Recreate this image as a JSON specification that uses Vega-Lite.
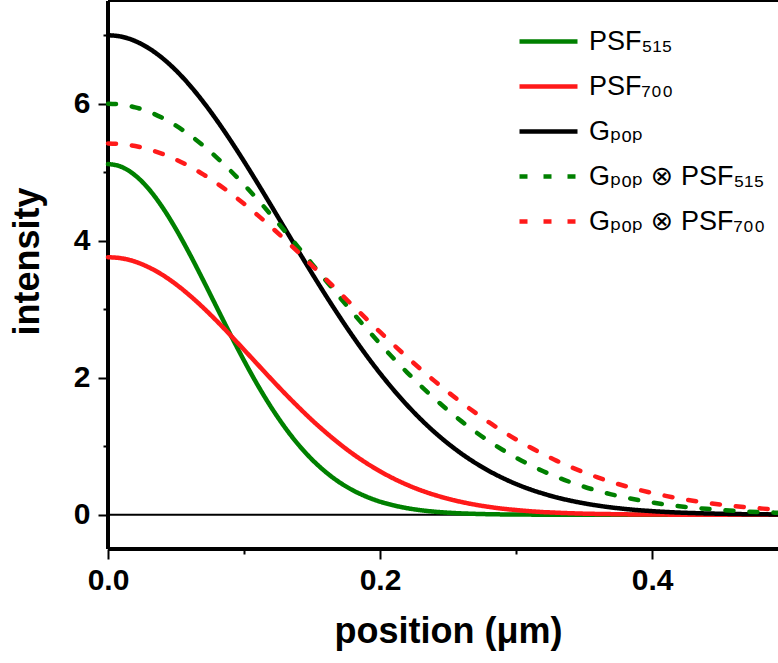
{
  "$schema": "https://vega.github.io/schema/vega-lite/v6.json",
  "width": 670,
  "height": 548,
  "autosize": {"type": "none"},
  "padding": {"left": 108, "top": 1, "right": 0, "bottom": 114},
  "background": "white",
  "config": {
    "view": {"stroke": null},
    "axis": {
      "domain": false,
      "ticks": true,
      "tickColor": "black",
      "tickWidth": 2,
      "grid": false,
      "labelFont": "Liberation Sans",
      "labelFontWeight": "bold",
      "labelFontSize": 30,
      "labelColor": "black",
      "titleFont": "Liberation Sans",
      "titleFontWeight": "bold",
      "titleFontSize": 36,
      "titleColor": "black"
    }
  },
  "data": {
    "values": [
      {"x": 0.00, "gpop": 7.000, "psf515": 5.120, "psf700": 3.760, "gpop_psf515": 6.000, "gpop_psf700": 5.420},
      {"x": 0.01, "gpop": 6.979, "psf515": 5.078, "psf700": 3.743, "gpop_psf515": 5.987, "gpop_psf700": 5.410},
      {"x": 0.02, "gpop": 6.915, "psf515": 4.954, "psf700": 3.694, "gpop_psf515": 5.948, "gpop_psf700": 5.382},
      {"x": 0.03, "gpop": 6.810, "psf515": 4.755, "psf700": 3.612, "gpop_psf515": 5.883, "gpop_psf700": 5.334},
      {"x": 0.04, "gpop": 6.666, "psf515": 4.489, "psf700": 3.502, "gpop_psf515": 5.793, "gpop_psf700": 5.269},
      {"x": 0.05, "gpop": 6.486, "psf515": 4.169, "psf700": 3.364, "gpop_psf515": 5.680, "gpop_psf700": 5.185},
      {"x": 0.06, "gpop": 6.272, "psf515": 3.809, "psf700": 3.203, "gpop_psf515": 5.545, "gpop_psf700": 5.085},
      {"x": 0.07, "gpop": 6.028, "psf515": 3.423, "psf700": 3.023, "gpop_psf515": 5.389, "gpop_psf700": 4.969},
      {"x": 0.08, "gpop": 5.758, "psf515": 3.026, "psf700": 2.828, "gpop_psf515": 5.214, "gpop_psf700": 4.839},
      {"x": 0.09, "gpop": 5.467, "psf515": 2.631, "psf700": 2.622, "gpop_psf515": 5.024, "gpop_psf700": 4.696},
      {"x": 0.10, "gpop": 5.159, "psf515": 2.251, "psf700": 2.409, "gpop_psf515": 4.819, "gpop_psf700": 4.540},
      {"x": 0.11, "gpop": 4.839, "psf515": 1.894, "psf700": 2.195, "gpop_psf515": 4.602, "gpop_psf700": 4.374},
      {"x": 0.12, "gpop": 4.511, "psf515": 1.568, "psf700": 1.981, "gpop_psf515": 4.375, "gpop_psf700": 4.200},
      {"x": 0.13, "gpop": 4.179, "psf515": 1.277, "psf700": 1.772, "gpop_psf515": 4.142, "gpop_psf700": 4.018},
      {"x": 0.14, "gpop": 3.849, "psf515": 1.023, "psf700": 1.572, "gpop_psf515": 3.904, "gpop_psf700": 3.830},
      {"x": 0.15, "gpop": 3.523, "psf515": 0.806, "psf700": 1.381, "gpop_psf515": 3.663, "gpop_psf700": 3.638},
      {"x": 0.16, "gpop": 3.205, "psf515": 0.625, "psf700": 1.204, "gpop_psf515": 3.423, "gpop_psf700": 3.444},
      {"x": 0.17, "gpop": 2.898, "psf515": 0.476, "psf700": 1.039, "gpop_psf515": 3.184, "gpop_psf700": 3.248},
      {"x": 0.18, "gpop": 2.604, "psf515": 0.357, "psf700": 0.889, "gpop_psf515": 2.948, "gpop_psf700": 3.053},
      {"x": 0.19, "gpop": 2.326, "psf515": 0.264, "psf700": 0.754, "gpop_psf515": 2.719, "gpop_psf700": 2.859},
      {"x": 0.20, "gpop": 2.065, "psf515": 0.191, "psf700": 0.634, "gpop_psf515": 2.496, "gpop_psf700": 2.668},
      {"x": 0.21, "gpop": 1.822, "psf515": 0.137, "psf700": 0.528, "gpop_psf515": 2.281, "gpop_psf700": 2.482},
      {"x": 0.22, "gpop": 1.598, "psf515": 0.096, "psf700": 0.436, "gpop_psf515": 2.076, "gpop_psf700": 2.299},
      {"x": 0.23, "gpop": 1.393, "psf515": 0.066, "psf700": 0.357, "gpop_psf515": 1.881, "gpop_psf700": 2.123},
      {"x": 0.24, "gpop": 1.207, "psf515": 0.045, "psf700": 0.290, "gpop_psf515": 1.697, "gpop_psf700": 1.954},
      {"x": 0.25, "gpop": 1.040, "psf515": 0.030, "psf700": 0.233, "gpop_psf515": 1.524, "gpop_psf700": 1.791},
      {"x": 0.26, "gpop": 0.890, "psf515": 0.020, "psf700": 0.186, "gpop_psf515": 1.363, "gpop_psf700": 1.637},
      {"x": 0.27, "gpop": 0.757, "psf515": 0.013, "psf700": 0.147, "gpop_psf515": 1.213, "gpop_psf700": 1.490},
      {"x": 0.28, "gpop": 0.640, "psf515": 0.008, "psf700": 0.115, "gpop_psf515": 1.075, "gpop_psf700": 1.351},
      {"x": 0.29, "gpop": 0.538, "psf515": 0.005, "psf700": 0.089, "gpop_psf515": 0.949, "gpop_psf700": 1.222},
      {"x": 0.30, "gpop": 0.449, "psf515": 0.003, "psf700": 0.069, "gpop_psf515": 0.834, "gpop_psf700": 1.100},
      {"x": 0.31, "gpop": 0.373, "psf515": 0.002, "psf700": 0.052, "gpop_psf515": 0.729, "gpop_psf700": 0.988},
      {"x": 0.32, "gpop": 0.308, "psf515": 0.001, "psf700": 0.039, "gpop_psf515": 0.635, "gpop_psf700": 0.884},
      {"x": 0.33, "gpop": 0.252, "psf515": 0.001, "psf700": 0.030, "gpop_psf515": 0.551, "gpop_psf700": 0.787},
      {"x": 0.34, "gpop": 0.206, "psf515": 0.000, "psf700": 0.022, "gpop_psf515": 0.476, "gpop_psf700": 0.699},
      {"x": 0.35, "gpop": 0.167, "psf515": 0.000, "psf700": 0.016, "gpop_psf515": 0.409, "gpop_psf700": 0.619},
      {"x": 0.36, "gpop": 0.134, "psf515": 0.000, "psf700": 0.012, "gpop_psf515": 0.350, "gpop_psf700": 0.546},
      {"x": 0.37, "gpop": 0.107, "psf515": 0.000, "psf700": 0.009, "gpop_psf515": 0.298, "gpop_psf700": 0.479},
      {"x": 0.38, "gpop": 0.085, "psf515": 0.000, "psf700": 0.006, "gpop_psf515": 0.253, "gpop_psf700": 0.420},
      {"x": 0.39, "gpop": 0.067, "psf515": 0.000, "psf700": 0.004, "gpop_psf515": 0.214, "gpop_psf700": 0.366},
      {"x": 0.40, "gpop": 0.053, "psf515": 0.000, "psf700": 0.003, "gpop_psf515": 0.180, "gpop_psf700": 0.318},
      {"x": 0.41, "gpop": 0.041, "psf515": 0.000, "psf700": 0.002, "gpop_psf515": 0.150, "gpop_psf700": 0.276},
      {"x": 0.42, "gpop": 0.032, "psf515": 0.000, "psf700": 0.001, "gpop_psf515": 0.125, "gpop_psf700": 0.238},
      {"x": 0.43, "gpop": 0.025, "psf515": 0.000, "psf700": 0.001, "gpop_psf515": 0.104, "gpop_psf700": 0.205},
      {"x": 0.44, "gpop": 0.019, "psf515": 0.000, "psf700": 0.001, "gpop_psf515": 0.086, "gpop_psf700": 0.176},
      {"x": 0.45, "gpop": 0.015, "psf515": 0.000, "psf700": 0.000, "gpop_psf515": 0.071, "gpop_psf700": 0.150},
      {"x": 0.46, "gpop": 0.011, "psf515": 0.000, "psf700": 0.000, "gpop_psf515": 0.058, "gpop_psf700": 0.128},
      {"x": 0.47, "gpop": 0.008, "psf515": 0.000, "psf700": 0.000, "gpop_psf515": 0.047, "gpop_psf700": 0.108},
      {"x": 0.48, "gpop": 0.006, "psf515": 0.000, "psf700": 0.000, "gpop_psf515": 0.038, "gpop_psf700": 0.092},
      {"x": 0.49, "gpop": 0.005, "psf515": 0.000, "psf700": 0.000, "gpop_psf515": 0.031, "gpop_psf700": 0.077},
      {"x": 0.50, "gpop": 0.003, "psf515": 0.000, "psf700": 0.000, "gpop_psf515": 0.025, "gpop_psf700": 0.065}
    ]
  },
  "layer": [
    {
      "mark": {"type": "rule", "color": "black", "strokeWidth": 2.5},
      "encoding": {"y": {"datum": -0.5, "type": "quantitative"}}
    },
    {
      "mark": {"type": "rule", "color": "black", "strokeWidth": 2.5},
      "encoding": {"x": {"datum": 0, "type": "quantitative"}}
    },
    {
      "data": {"values": [{"level": 0}, {"level": 7.5}]},
      "mark": {"type": "rule", "color": "black", "strokeWidth": 2},
      "encoding": {
        "y": {"field": "level", "type": "quantitative", "title": "intensity"}
      }
    },
    {
      "transform": [
        {"fold": ["psf515", "psf700", "gpop", "gpop_psf515", "gpop_psf700"], "as": ["series", "intensity"]}
      ],
      "mark": {"type": "line", "strokeWidth": 4.5, "strokeCap": "round", "interpolate": "monotone"},
      "encoding": {
        "x": {
          "field": "x",
          "type": "quantitative",
          "scale": {"domain": [0, 0.4926], "nice": false, "zero": false},
          "axis": {
            "values": [0, 0.1, 0.2, 0.3, 0.4],
            "format": ".1f",
            "labelExpr": "round(datum.value * 10) % 2 === 1 ? '' : datum.label",
            "tickSize": {"condition": {"test": "round(datum.value * 10) % 2 === 1", "value": 5}, "value": 10},
            "labelPadding": 6,
            "labelFlush": false,
            "title": "position (μm)",
            "titleX": 340,
            "titleY": 82,
            "titleAlign": "center",
            "titleBaseline": "middle"
          }
        },
        "y": {
          "field": "intensity",
          "type": "quantitative",
          "scale": {"domain": [-0.5, 7.5], "nice": false, "zero": false},
          "axis": {
            "values": [0, 1, 2, 3, 4, 5, 6, 7],
            "format": "d",
            "labelExpr": "datum.value % 2 === 1 ? '' : datum.label",
            "tickSize": {"condition": {"test": "datum.value % 2 === 1", "value": 5}, "value": 10},
            "labelPadding": 8,
            "title": "intensity",
            "titleAngle": -90,
            "titleX": -81,
            "titleY": 260,
            "titleAlign": "center",
            "titleBaseline": "middle"
          }
        },
        "color": {
          "field": "series",
          "type": "nominal",
          "scale": {
            "domain": ["psf515", "psf700", "gpop", "gpop_psf515", "gpop_psf700"],
            "range": ["#008000", "#ff1a1a", "#000000", "#008000", "#ff1a1a"]
          },
          "legend": {
            "title": null,
            "orient": "none",
            "legendX": 409,
            "legendY": 9,
            "padding": 0,
            "symbolType": "stroke",
            "symbolSize": 3364,
            "symbolStrokeWidth": 4.5,
            "labelFont": "Liberation Sans, DejaVu Sans",
            "labelFontSize": 27,
            "labelColor": "black",
            "labelOffset": 9,
            "rowPadding": 0,
            "labelLimit": 400,
            "labelExpr": "datum.value === 'psf515' ? 'PSF₅₁₅' : datum.value === 'psf700' ? 'PSF₇₀₀' : datum.value === 'gpop' ? 'Gₚₒₚ' : datum.value === 'gpop_psf515' ? 'Gₚₒₚ ⊗ PSF₅₁₅' : 'Gₚₒₚ ⊗ PSF₇₀₀'"
          }
        },
        "strokeDash": {
          "field": "series",
          "type": "nominal",
          "scale": {
            "domain": ["psf515", "psf700", "gpop", "gpop_psf515", "gpop_psf700"],
            "range": [[1, 0], [1, 0], [1, 0], [8, 16], [8, 16]]
          },
          "legend": {
            "title": null,
            "orient": "none",
            "legendX": 409,
            "legendY": 9,
            "padding": 0,
            "symbolType": "stroke",
            "symbolSize": 3364,
            "symbolStrokeWidth": 4.5,
            "labelFont": "Liberation Sans, DejaVu Sans",
            "labelFontSize": 27,
            "labelColor": "black",
            "labelOffset": 9,
            "rowPadding": 0,
            "labelLimit": 400,
            "labelExpr": "datum.value === 'psf515' ? 'PSF₅₁₅' : datum.value === 'psf700' ? 'PSF₇₀₀' : datum.value === 'gpop' ? 'Gₚₒₚ' : datum.value === 'gpop_psf515' ? 'Gₚₒₚ ⊗ PSF₅₁₅' : 'Gₚₒₚ ⊗ PSF₇₀₀'"
          }
        }
      }
    }
  ]
}
